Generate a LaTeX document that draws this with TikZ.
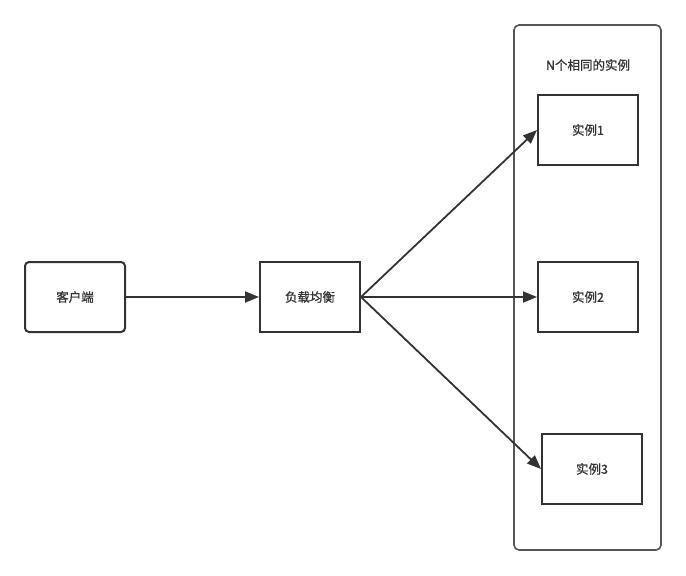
\documentclass[tikz,border=0pt]{standalone}
\usepackage{fontspec}
\setmainfont{Noto Sans CJK SC}[FakeBold=0.9]
\usepackage{tikz}
\usetikzlibrary{arrows.meta, positioning}
\definecolor{tinta}{RGB}{51, 51, 51}
\definecolor{marco}{RGB}{85, 85, 85}
\tikzset{
    caja/.style={draw=tinta, line width=2pt, fill=white, minimum width=100pt, minimum height=70pt, text=tinta, font=\fontsize{12.5}{14}\selectfont},
    cajaR/.style={caja, rounded corners=4pt},
    grupo/.style={draw=marco, line width=1.6pt, rounded corners=5pt},
    flecha/.style={-{Triangle[length=14pt, width=11pt]}, tinta, line width=1.8pt},
}

\begin{document}
\begin{tikzpicture}[x=1pt, y=-1pt]
    \useasboundingbox (0,0) rectangle (686,576);
    \draw[grupo] (514,25) rectangle (661,550);
    \node[text=tinta, font=\fontsize{12.5}{14}\selectfont] (titulo) at (588,65) {N个相同的实例};

    \node[cajaR] (cliente) at (75,297) {客户端};
    \node[caja] (balance) at (310,297) {负载均衡};
    \node[caja] (inst1) at (588,130) {实例1};
    \node[caja] (inst2) at (588,297) {实例2};
    \node[caja] (inst3) at (592,469) {实例3};

    \draw[flecha] (cliente.east) -- (balance.west);
    \draw[flecha] (balance.east) -- (inst1.west);
    \draw[flecha] (balance.east) -- (inst2.west);
    \draw[flecha] (balance.east) -- (inst3.west);
\end{tikzpicture}
\end{document}
